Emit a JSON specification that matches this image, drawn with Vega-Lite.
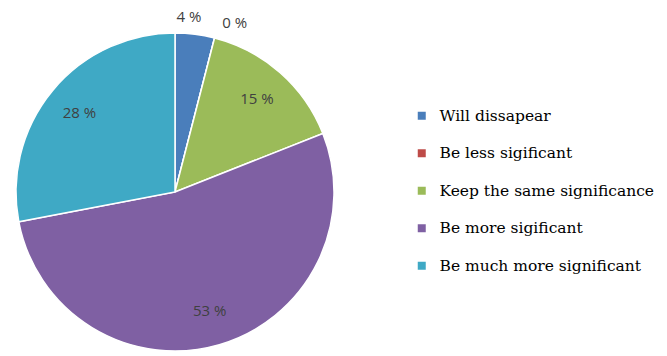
{
  "$schema": "https://vega.github.io/schema/vega-lite/v6.json",
  "width": 350,
  "height": 328,
  "padding": {"top": 28, "left": 0, "right": 317, "bottom": 0},
  "autosize": {"type": "none"},
  "background": "white",
  "data": {
    "values": [
      {"category": "Will dissapear", "value": 4, "order": 1, "label": "4 %"},
      {"category": "Be less sigificant", "value": 0, "order": 2, "label": "0 %"},
      {"category": "Keep the same significance", "value": 15, "order": 3, "label": "15 %"},
      {"category": "Be more sigificant", "value": 53, "order": 4, "label": "53 %"},
      {"category": "Be much more significant", "value": 28, "order": 5, "label": "28 %"}
    ]
  },
  "encoding": {
    "theta": {"field": "value", "type": "quantitative", "stack": true},
    "order": {"field": "order", "type": "quantitative"}
  },
  "layer": [
    {
      "mark": {"type": "arc", "radius": 159, "stroke": "white", "strokeWidth": 1.5},
      "encoding": {
        "color": {
          "field": "category",
          "type": "nominal",
          "scale": {
            "domain": ["Will dissapear", "Be less sigificant", "Keep the same significance", "Be more sigificant", "Be much more significant"],
            "range": ["#4A7EBB", "#BE4B48", "#9BBB59", "#7F60A3", "#3FA9C5"]
          },
          "legend": {
            "title": null,
            "orient": "none",
            "legendX": 414,
            "legendY": 80,
            "symbolType": "square",
            "symbolSize": 64,
            "symbolStrokeWidth": 0,
            "labelFont": "DejaVu Serif",
            "labelFontSize": 15.5,
            "labelColor": "#000000",
            "labelLimit": 300,
            "labelOffset": 10,
            "rowPadding": 20.5
          }
        }
      }
    },
    {
      "mark": {"type": "text", "radius": 124, "font": "Open Sans", "fontSize": 15, "color": "#404040"},
      "encoding": {
        "text": {"condition": {"test": "datum.value < 5", "value": ""}, "field": "label", "type": "nominal"}
      }
    },
    {
      "mark": {"type": "text", "radius": 176, "dx": -8, "font": "Open Sans", "fontSize": 15, "color": "#404040"},
      "encoding": {
        "text": {"condition": {"test": "datum.order != 1", "value": ""}, "field": "label", "type": "nominal"}
      }
    },
    {
      "mark": {"type": "text", "radius": 176, "dx": 16, "dy": 1, "font": "Open Sans", "fontSize": 15, "color": "#404040"},
      "encoding": {
        "text": {"condition": {"test": "datum.order != 2", "value": ""}, "field": "label", "type": "nominal"}
      }
    }
  ]
}
